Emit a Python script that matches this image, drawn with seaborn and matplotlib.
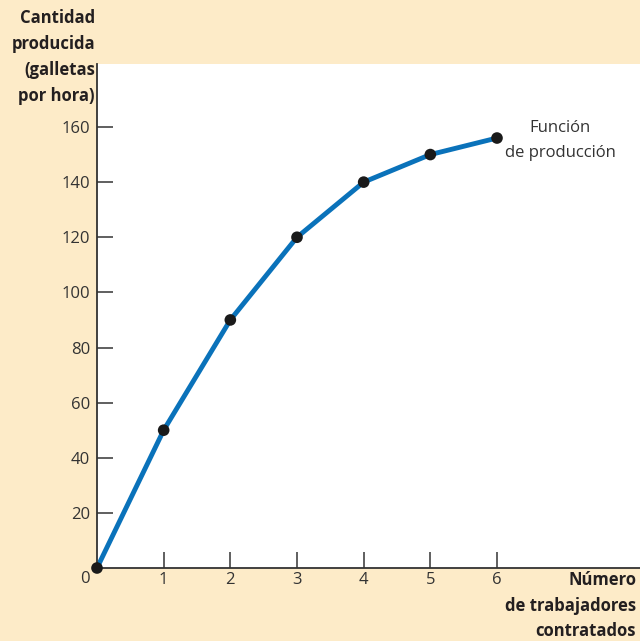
import matplotlib
matplotlib.use("Agg")
import matplotlib.pyplot as plt
import seaborn as sns
import pandas as pd

workers = [0, 1, 2, 3, 4, 5, 6]
output = [0, 50, 90, 120, 140, 150, 156]
y_ticks = [20, 40, 60, 80, 100, 120, 140, 160]
x_ticks = [1, 2, 3, 4, 5, 6]

df = pd.DataFrame({"workers": workers, "output": output})

sns.set_style("white")
plt.rcParams['font.family'] = ['Open Sans', 'DejaVu Sans']

bg = "#FDEBC8"
fig = plt.figure(figsize=(6.4, 6.41), dpi=100, facecolor=bg)
ax = fig.add_axes([97/640, 1-568/641, 1-97/640, (568-64)/641])
ax.set_facecolor("white")

sns.lineplot(data=df, x="workers", y="output", ax=ax, color="#0A72BA", lw=3.5,
             clip_on=False, zorder=2)
sns.scatterplot(data=df, x="workers", y="output", ax=ax, color="#1a1a1a", s=70,
                edgecolor="none", clip_on=False, zorder=3)

ax.set_xlim(0, 543/(400/6))
ax.set_ylim(0, (568-64)/(441/160))
ax.set_xticks(x_ticks)
ax.set_yticks(y_ticks)
ax.set_xticklabels([str(v) for v in x_ticks])
ax.set_yticklabels([str(v) for v in y_ticks])
ax.tick_params(axis="both", direction="in", length=11.5, width=1.2, color="#444444",
               labelsize=12, labelcolor="#333333", bottom=True, left=True)
ax.tick_params(axis="x", pad=3)
ax.tick_params(axis="y", pad=5)
for s in ["top", "right"]:
    ax.spines[s].set_visible(False)
for s in ["left", "bottom"]:
    ax.spines[s].set_color("#333333")
    ax.spines[s].set_linewidth(1.3)
ax.set_xlabel("")
ax.set_ylabel("")

fig.text(90/640, 1-579/641, "0", ha="right", va="center", fontsize=12, color="#333333")

fig.text(95/640, 1-9/641, "Cantidad\nproducida\n(galletas\npor hora)", ha="right", va="top",
         fontsize=12, fontweight="bold", color="#231f20", linespacing=1.58)
fig.text(636/640, 1-571/641, "Número\nde trabajadores\ncontratados", ha="right", va="top",
         fontsize=12, fontweight="bold", color="#231f20", linespacing=1.55)

ax.text(6.95, 155, "Función\nde producción", ha="center", va="center", fontsize=12,
        color="#333333", linespacing=1.75)

fig.savefig("out.png", dpi=100, facecolor=bg)
